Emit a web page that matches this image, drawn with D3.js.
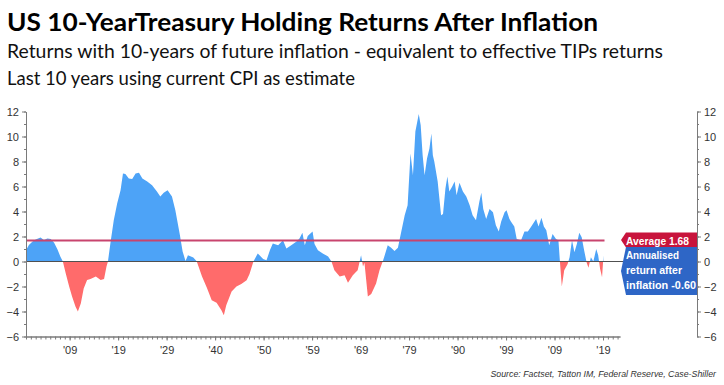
<!DOCTYPE html>
<html>
<head>
<meta charset="utf-8">
<script src="https://cdn.jsdelivr.net/npm/d3@7"></script>
<style>
  html, body { margin: 0; padding: 0; background: #ffffff; }
  svg { display: block; }
</style>
</head>
<body>
<svg id="chart" width="724" height="385"></svg>
<script>
// ---- Data ----
const years = [
  1900.0, 1900.6, 1901.3, 1902.0, 1903.0, 1903.7, 1904.4, 1905.1, 1905.8, 1906.5,
  1907.1, 1907.6, 1908.2, 1908.9, 1909.5, 1910.2, 1910.7, 1911.3, 1911.9, 1912.6,
  1913.3, 1914.4, 1915.4, 1916.1, 1916.6, 1916.9, 1917.4, 1918.1, 1918.8, 1919.5,
  1920.0, 1920.5, 1921.2, 1921.9, 1922.6, 1923.3, 1924.0, 1925.0, 1926.0, 1927.0,
  1927.7, 1928.4, 1929.2, 1930.1, 1930.8, 1931.7, 1932.3, 1932.9, 1933.4, 1934.5,
  1935.2, 1936.3, 1937.3, 1938.3, 1939.3, 1940.3, 1940.8, 1941.3, 1942.4, 1943.4,
  1944.4, 1945.5, 1946.1, 1946.9, 1947.8, 1948.9, 1949.6, 1950.3, 1950.9, 1952.0,
  1953.0, 1953.7, 1954.7, 1955.8, 1956.4, 1957.0, 1957.5, 1958.1, 1959.1, 1959.5,
  1960.2, 1961.2, 1962.3, 1963.0, 1963.6, 1964.7, 1965.7, 1966.4, 1967.4, 1968.4,
  1969.1, 1969.5, 1969.8, 1970.5, 1971.2, 1972.2, 1972.9, 1973.6, 1973.9, 1974.6,
  1975.3, 1976.0, 1976.7, 1977.4, 1978.1, 1978.7, 1979.3, 1979.8, 1980.3, 1981.0,
  1981.4, 1981.8, 1982.2, 1982.7, 1983.2, 1983.6, 1983.9, 1984.2, 1984.9, 1985.6,
  1986.0, 1986.5, 1986.9, 1987.3, 1987.9, 1988.4, 1988.8, 1989.4, 1990.1, 1990.8,
  1991.5, 1992.1, 1992.8, 1993.5, 1993.9, 1994.3, 1994.9, 1995.6, 1996.3, 1996.9,
  1997.5, 1998.0, 1998.7, 1999.1, 1999.7, 2000.0, 2000.7, 2001.2, 2002.1, 2002.8,
  2003.5, 2004.2, 2005.2, 2005.7, 2006.3, 2006.8, 2007.3, 2007.9, 2008.6, 2009.3,
  2009.8, 2010.1, 2010.5, 2011.0, 2011.7, 2012.1, 2012.6, 2013.1, 2013.6, 2014.1,
  2014.6, 2015.1, 2015.6, 2016.0, 2016.5, 2017.0, 2017.6, 2018.0, 2018.4, 2018.8,
  2019.1
];
const returns = [
  0.90, 1.32, 1.58, 1.77, 1.93, 1.73, 1.85, 1.80, 1.50, 0.97,
  0.38, 0.00, -0.95, -2.00, -2.80, -3.60, -4.00, -3.35, -2.15, -1.48,
  -1.40, -1.20, -1.48, -1.40, -0.40, 0.00, 1.45, 3.30, 4.65, 5.70,
  7.05, 7.00, 6.65, 6.60, 7.05, 7.10, 6.65, 6.40, 6.10, 5.60,
  5.20, 5.50, 5.70, 5.20, 4.10, 2.20, 0.80, 0.05, 0.50, 0.33,
  0.02, -1.20, -2.10, -3.10, -3.30, -3.90, -4.30, -3.50, -2.40, -2.00,
  -1.80, -1.50, -1.00, 0.00, 0.65, 0.20, 0.10, 0.90, 1.45, 1.30,
  1.70, 1.05, 1.30, 1.60, 1.85, 2.30, 1.30, 2.05, 2.40, 1.40,
  0.90, 0.65, 0.40, 0.00, -0.70, -1.20, -1.10, -1.70, -1.10, -0.70,
  0.50, -0.40, -0.10, -2.80, -2.60, -1.75, -0.70, 0.05, 0.40, 1.30,
  1.10, 0.85, 1.10, 2.40, 3.70, 4.50, 8.65, 6.90, 10.40, 11.80,
  10.90, 8.50, 6.90, 8.25, 9.05, 10.25, 8.50, 8.00, 6.40, 3.70,
  3.80, 5.85, 6.80, 5.60, 6.00, 6.40, 5.30, 6.30, 5.60, 5.20,
  4.50, 3.70, 3.30, 4.80, 5.50, 4.20, 3.40, 4.20, 3.95, 2.90,
  2.40, 3.20, 3.95, 4.10, 3.40, 3.20, 2.80, 1.80, 1.70, 2.40,
  2.40, 2.80, 3.40, 2.80, 3.50, 2.80, 2.50, 1.30, 2.20, 1.80,
  1.70, 0.05, -2.00, -0.70, -0.20, 0.35, 1.70, 0.75, 1.40, 2.30,
  1.95, 0.90, -0.05, -0.50, 0.35, 0.00, 1.00, 0.50, -0.60, -1.25,
  0.50
];
const yTickValues = [-6, -4, -2, 0, 2, 4, 6, 8, 10, 12];
const xTickYears = [1909, 1919, 1929, 1939, 1949, 1959, 1969, 1979, 1989, 1999, 2009, 2019];
const xTickLabels = ["'09", "'19", "'29", "'40", "'50", "'59", "'69", "'79", "'90", "'99", "'09", "'19"];
const averageValue = 1.68;
const annualisedValue = -0.60;
const titleText = "US 10-YearTreasury Holding Returns After Inflation";
const subtitle1 = "Returns with 10-years of future inflation - equivalent to effective TIPs returns";
const subtitle2 = "Last 10 years using current CPI as estimate";
const sourceText = "Source: Factset, Tatton IM, Federal Reserve, Case-Shiller";

// ---- Layout ----
const svg = d3.select("#chart");
const plotLeft = 26, rightAxisX = 697, axisEnd = 620;
const plotTop = 111.5, plotBottom = 336.5;

const x = d3.scaleLinear().domain([1900, 2022.5]).range([plotLeft, axisEnd]);
const y = d3.scaleLinear().domain([-6, 12]).range([plotBottom, plotTop]);

const data = years.map((d, i) => ({ year: d, v: returns[i] }));

// Titles
function fitText(sel, w) { sel.attr("textLength", w).attr("lengthAdjust", "spacingAndGlyphs"); }
svg.append("text").attr("x", 7).attr("y", 31)
  .attr("font-family", "Lato, 'Open Sans', sans-serif").attr("font-weight", "bold")
  .attr("font-size", 25).attr("fill", "#000").text(titleText).call(fitText, 591);
svg.append("text").attr("x", 7).attr("y", 58)
  .attr("font-family", "Lato, 'Open Sans', sans-serif")
  .attr("font-size", 19).attr("fill", "#111").text(subtitle1).call(fitText, 656);
svg.append("text").attr("x", 7).attr("y", 85)
  .attr("font-family", "Lato, 'Open Sans', sans-serif")
  .attr("font-size", 19).attr("fill", "#111").text(subtitle2).call(fitText, 348);

// Clip paths for positive/negative fills
const defs = svg.append("defs");
defs.append("clipPath").attr("id", "clipPos").append("rect")
  .attr("x", plotLeft).attr("y", plotTop - 10).attr("width", rightAxisX - plotLeft).attr("height", y(0) - plotTop + 10);
defs.append("clipPath").attr("id", "clipNeg").append("rect")
  .attr("x", plotLeft).attr("y", y(0)).attr("width", rightAxisX - plotLeft).attr("height", plotBottom - y(0));

const area = d3.area()
  .x(d => x(d.year))
  .y0(y(0))
  .y1(d => y(d.v))
  .curve(d3.curveLinear);

svg.append("path").datum(data).attr("d", area)
  .attr("fill", "#4da3f7").attr("clip-path", "url(#clipPos)");
svg.append("path").datum(data).attr("d", area)
  .attr("fill", "#ff6b6b").attr("clip-path", "url(#clipNeg)");

// Zero line
svg.append("line").attr("x1", plotLeft).attr("x2", rightAxisX)
  .attr("y1", y(0)).attr("y2", y(0)).attr("stroke", "#505050").attr("stroke-width", 1);

// Average line
svg.append("line").attr("x1", x(years[0])).attr("x2", x(years[years.length - 1]) + 1)
  .attr("y1", y(averageValue)).attr("y2", y(averageValue))
  .attr("stroke", "#c8446e").attr("stroke-width", 2);

// Axes
const axisColor = "#7a7a7a";
function styleAxis(g) {
  g.selectAll("path.domain").attr("stroke", axisColor);
  g.selectAll(".tick line").attr("stroke", axisColor);
  g.selectAll(".tick text").attr("fill", "#333")
    .attr("font-family", "'Liberation Sans', Arial, sans-serif").attr("font-size", 11);
}
const minorY = d3.range(-6, 13, 1);
svg.append("g").attr("transform", `translate(${plotLeft},0)`)
  .call(d3.axisLeft(y).tickValues(minorY).tickSize(2).tickFormat("").tickSizeOuter(0))
  .call(styleAxis);
svg.append("g").attr("transform", `translate(${plotLeft},0)`)
  .call(d3.axisLeft(y).tickValues(yTickValues).tickSize(4).tickPadding(3).tickSizeOuter(0))
  .call(styleAxis);
svg.append("g").attr("transform", `translate(${rightAxisX},0)`)
  .call(d3.axisRight(y).tickValues(minorY).tickSize(2).tickFormat("").tickSizeOuter(0))
  .call(styleAxis);
svg.append("g").attr("transform", `translate(${rightAxisX},0)`)
  .call(d3.axisRight(y).tickValues(yTickValues).tickSize(4).tickPadding(3).tickSizeOuter(0))
  .call(styleAxis);

const minorX = d3.range(1900, 2023, 1);
svg.append("g").attr("transform", `translate(0,${plotBottom})`)
  .call(d3.axisBottom(x).tickValues(minorX).tickSize(3).tickFormat("").tickSizeOuter(0))
  .call(styleAxis);
svg.append("g").attr("transform", `translate(0,${plotBottom})`)
  .call(d3.axisBottom(x).tickValues(xTickYears).tickSize(4).tickPadding(6)
    .tickFormat((d, i) => xTickLabels[i]).tickSizeOuter(0))
  .call(styleAxis);

// Value labels on the right
const boxL = 621, boxR = rightAxisX;
function tagPath(cy, h) {
  const t = cy - h / 2, b = cy + h / 2;
  return `M${boxL},${cy}L${boxL + 5},${t}L${boxR},${t}L${boxR},${b}L${boxL + 5},${b}Z`;
}
const labelFont = "'Liberation Sans', Arial, sans-serif";
const avgY = y(averageValue);
svg.append("path").attr("d", tagPath(avgY - 0.5, 15)).attr("fill", "#c8143c");
svg.append("text").attr("x", 626).attr("y", avgY + 4)
  .attr("font-family", labelFont).attr("font-weight", "bold")
  .attr("font-size", 11.5).attr("fill", "#fff").text("Average " + averageValue.toFixed(2))
  .call(fitText, 63);

const annY = y(annualisedValue) + 2;
svg.append("path").attr("d", tagPath(annY, 48)).attr("fill", "#2e66c6");
const annLines = ["Annualised", "return after", "inflation " + annualisedValue.toFixed(2)];
const annWidths = [53, 56, 70];
annLines.forEach((t, i) => {
  svg.append("text").attr("x", 626).attr("y", annY - 12 + i * 15)
    .attr("font-family", labelFont).attr("font-weight", "bold")
    .attr("font-size", 11.5).attr("fill", "#fff").text(t)
    .call(fitText, annWidths[i]);
});

// Source
svg.append("text").attr("x", 716).attr("y", 377).attr("text-anchor", "end")
  .attr("font-family", "'Liberation Sans', Arial, sans-serif").attr("font-style", "italic")
  .attr("font-size", 8.8).attr("fill", "#333").text(sourceText);
</script>
</body>
</html>
